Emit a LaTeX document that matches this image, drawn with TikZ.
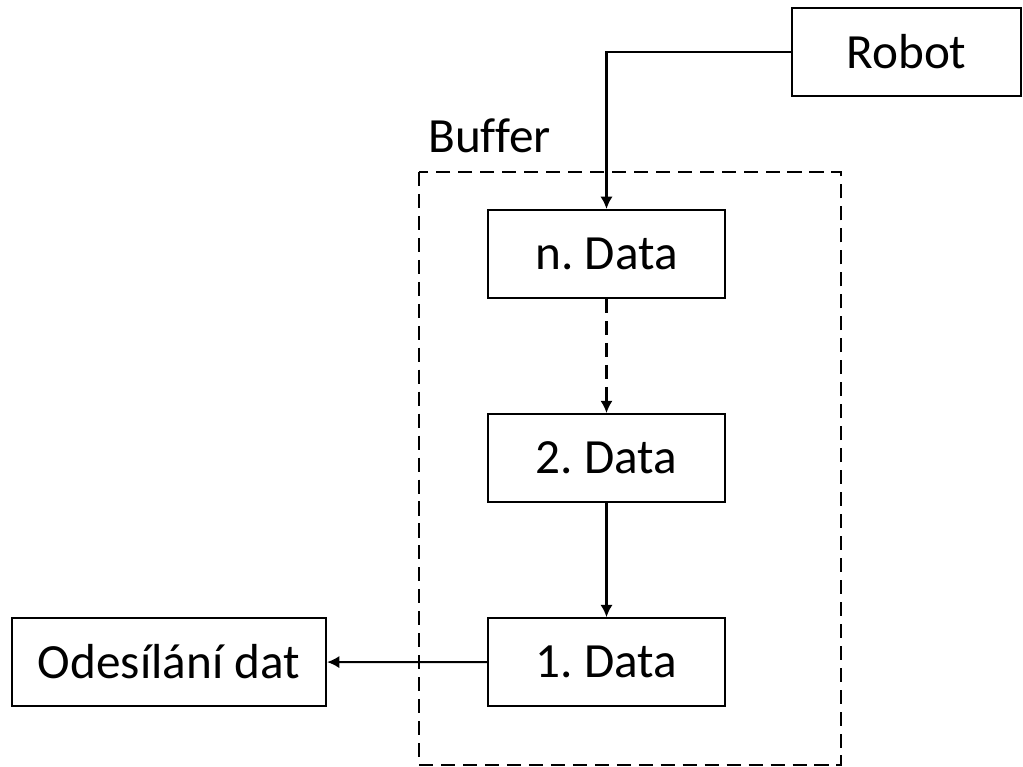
\documentclass[tikz,border=0pt]{standalone}
\usepackage{fontspec}
\setmainfont[Ligatures=NoCommon]{Carlito}
\usetikzlibrary{positioning,arrows.meta}
\begin{document}
\begin{tikzpicture}[
    node distance=2.28cm,
    every node/.style={font=\fontsize{28}{33}\selectfont},
    box/.style={rectangle, draw, line width=1.2pt,
                minimum width=4.74cm, minimum height=1.76cm, inner sep=2pt},
    link/.style={line width=1.2pt, -{Latex[length=7pt,width=7pt]}},
    dashlink/.style={link, dash pattern=on 8pt off 4.5pt}]
  \useasboundingbox (0,0) rectangle (20.46,-15.34);
  % buffer frame
  \draw[line width=1.2pt, dash pattern=on 8pt off 4.5pt]
    (8.38,-3.44) rectangle (16.82,-15.30);
  \node[anchor=base west, inner sep=0pt] (buf) at (8.56,-3.06) {Buffer};
  \node[box, minimum width=4.58cm] (robot) at (18.13,-1.04) {Robot};
  \node[box] (dn) at (12.13,-5.08) {n.\ Data};
  \node[box, below=of dn] (d2) {2.\ Data};
  \node[box, below=of d2] (d1) {1.\ Data};
  \node[box, minimum width=6.28cm] (send) at (3.38,-13.24) {Odesílání dat};
  \draw[link] (robot.west) -| (dn.north);
  \draw[dashlink] (dn) -- (d2);
  \draw[link] (d2) -- (d1);
  \draw[link] (d1) -- (send);
\end{tikzpicture}
\end{document}
